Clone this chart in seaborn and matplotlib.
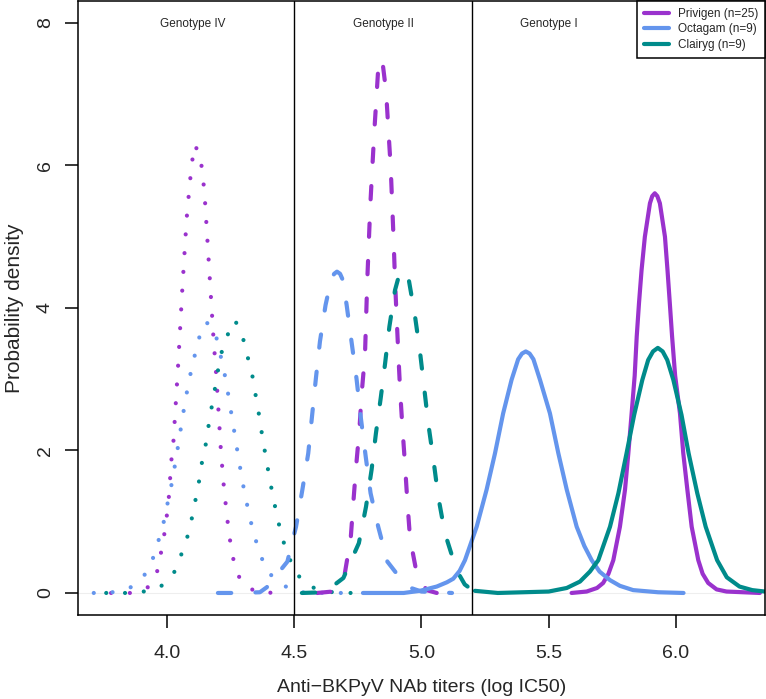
import matplotlib
matplotlib.use("Agg")
import matplotlib.pyplot as plt
from matplotlib.lines import Line2D
import pandas as pd
import seaborn as sns

products = ["Privigen (n=25)", "Octagam (n=9)", "Clairyg (n=9)"]
colors = ["#9A32CD", "#6495ED", "#008B8B"]
genotypes = ["Genotype IV", "Genotype II", "Genotype I"]
genotype_label_x = [4.1, 4.85, 5.5]
genotype_bounds = [4.5, 5.2]

# density curves (x = log IC50, y = density)
# Genotype IV
priv_iv_x = [3.78, 3.86, 3.924, 3.961, 3.976, 3.989, 3.999, 4.007, 4.017, 4.025,
             4.034, 4.043, 4.051, 4.059, 4.068, 4.077, 4.090, 4.098, 4.107, 4.130,
             4.139, 4.147, 4.156, 4.165, 4.174, 4.183, 4.194, 4.203, 4.212, 4.224,
             4.240, 4.250, 4.263, 4.288, 4.345, 4.42]
priv_iv_y = [0.0, 0.0, 0.08, 0.30, 0.56, 0.82, 1.08, 1.34, 1.86, 2.12,
             2.64, 3.16, 3.68, 4.20, 4.73, 5.25, 5.77, 6.03, 6.29, 6.16,
             5.89, 5.63, 5.11, 4.59, 4.07, 3.55, 3.03, 2.51, 1.98, 1.46,
             0.94, 0.68, 0.43, 0.18, 0.02, 0.0]
octa_iv_x = [3.712, 3.785, 3.857, 3.911, 3.944, 3.966, 3.986, 4.001, 4.016, 4.029,
             4.041, 4.052, 4.064, 4.076, 4.090, 4.106, 4.123, 4.149, 4.170, 4.191,
             4.208, 4.224, 4.237, 4.249, 4.261, 4.272, 4.284, 4.296, 4.310, 4.325,
             4.343, 4.364, 4.393, 4.440, 4.510, 4.65, 4.73]
octa_iv_y = [0.0, 0.01, 0.08, 0.25, 0.48, 0.73, 0.98, 1.24, 1.49, 1.75,
             2.01, 2.26, 2.53, 2.78, 3.04, 3.29, 3.55, 3.80, 3.77, 3.63,
             3.37, 3.12, 2.86, 2.60, 2.34, 2.09, 1.83, 1.57, 1.32, 1.06,
             0.81, 0.56, 0.31, 0.14, 0.01, 0.0, 0.0]
clai_iv_x = [3.761, 3.835, 3.908, 3.978, 4.028, 4.056, 4.080, 4.097, 4.111, 4.125,
             4.136, 4.151, 4.162, 4.174, 4.187, 4.199, 4.212, 4.235, 4.267, 4.297,
             4.314, 4.333, 4.345, 4.358, 4.369, 4.381, 4.393, 4.406, 4.420, 4.435,
             4.451, 4.475, 4.504, 4.554, 4.622, 4.69, 4.77]
clai_iv_y = [0.0, 0.0, 0.02, 0.10, 0.29, 0.54, 0.79, 1.04, 1.29, 1.55,
             1.81, 2.06, 2.32, 2.58, 2.84, 3.10, 3.35, 3.60, 3.83, 3.60,
             3.35, 3.10, 2.84, 2.58, 2.32, 2.06, 1.81, 1.55, 1.29, 1.04,
             0.79, 0.54, 0.29, 0.10, 0.02, 0.0, 0.0]

# Genotype II
priv_ii_x = [4.59, 4.65, 4.699, 4.722, 4.732, 4.743, 4.756, 4.765, 4.778, 4.787,
             4.799, 4.807, 4.815, 4.824, 4.830, 4.837, 4.848, 4.861, 4.870, 4.879,
             4.885, 4.891, 4.896, 4.902, 4.909, 4.916, 4.925, 4.935, 4.944, 4.955,
             4.981, 5.02, 5.06]
priv_ii_y = [0.0, 0.02, 0.28, 0.77, 1.26, 1.77, 2.29, 2.80, 3.34, 4.39,
             5.45, 5.98, 6.50, 7.01, 7.36, 7.50, 7.42, 7.04, 6.50, 5.98,
             5.45, 4.91, 4.39, 3.90, 3.36, 2.85, 2.33, 1.82, 1.31, 0.77,
             0.28, 0.04, 0.0]
octa_ii_x = [4.20, 4.28, 4.365, 4.392, 4.473, 4.507, 4.532, 4.555, 4.571, 4.585,
             4.601, 4.623, 4.645, 4.657, 4.668, 4.680, 4.690, 4.706, 4.725, 4.745,
             4.762, 4.781, 4.800, 4.830, 4.866, 4.942, 5.00, 5.12]
octa_ii_y = [0.0, 0.0, 0.01, 0.08, 0.44, 0.93, 1.45, 1.96, 2.52, 3.01,
             3.53, 4.04, 4.40, 4.48, 4.51, 4.48, 4.40, 4.04, 3.53, 3.00,
             2.45, 1.91, 1.40, 0.93, 0.44, 0.09, 0.02, 0.0]
clai_ii_x = [4.53, 4.62, 4.693, 4.754, 4.782, 4.804, 4.821, 4.840, 4.857, 4.874,
             4.896, 4.912, 4.925, 4.937, 4.949, 4.974, 4.994, 5.010, 5.027, 5.047,
             5.066, 5.092, 5.138, 5.17, 5.20]
clai_ii_y = [0.0, 0.01, 0.21, 0.70, 1.21, 1.73, 2.24, 2.74, 3.22, 3.74,
             4.25, 4.46, 4.53, 4.50, 4.42, 3.90, 3.39, 2.90, 2.37, 1.87,
             1.35, 0.84, 0.32, 0.12, 0.04]

# Genotype I
priv_i_x = [5.59, 5.649, 5.690, 5.714, 5.735, 5.754, 5.780, 5.800, 5.813, 5.826,
            5.838, 5.846, 5.855, 5.865, 5.878, 5.898, 5.907, 5.917, 5.927, 5.937,
            5.957, 5.967, 5.976, 5.985, 5.997, 6.016, 6.029, 6.045, 6.062, 6.088,
            6.105, 6.127, 6.160, 6.199, 6.33]
priv_i_y = [0.0, 0.02, 0.07, 0.14, 0.27, 0.46, 0.93, 1.45, 1.96, 2.52,
            3.05, 3.60, 4.07, 4.53, 5.00, 5.47, 5.57, 5.61, 5.57, 5.47,
            5.00, 4.53, 4.07, 3.60, 3.05, 2.52, 1.96, 1.45, 0.93, 0.46,
            0.27, 0.14, 0.05, 0.02, 0.0]
octa_i_x = [4.77, 4.93, 4.994, 5.06, 5.10, 5.125, 5.150, 5.171, 5.217, 5.256,
            5.289, 5.321, 5.354, 5.38, 5.395, 5.41, 5.425, 5.44, 5.466, 5.505,
            5.538, 5.571, 5.610, 5.640, 5.669, 5.700, 5.741, 5.780, 5.832, 5.93,
            6.03]
octa_i_y = [0.0, 0.0, 0.03, 0.09, 0.15, 0.20, 0.31, 0.46, 0.93, 1.45,
            1.96, 2.52, 2.99, 3.28, 3.36, 3.39, 3.36, 3.28, 2.99, 2.52,
            1.96, 1.45, 0.93, 0.66, 0.46, 0.30, 0.18, 0.10, 0.04, 0.01,
            0.0]
clai_i_x = [5.21, 5.30, 5.40, 5.50, 5.571, 5.623, 5.662, 5.695, 5.741, 5.774,
            5.806, 5.836, 5.868, 5.891, 5.910, 5.929, 5.948, 5.966, 5.99, 6.022,
            6.05, 6.084, 6.117, 6.162, 6.20, 6.25, 6.30, 6.35]
clai_i_y = [0.03, 0.0, 0.01, 0.02, 0.07, 0.16, 0.30, 0.46, 0.93, 1.40,
            1.96, 2.50, 2.99, 3.27, 3.39, 3.44, 3.39, 3.27, 2.99, 2.50,
            1.96, 1.40, 0.93, 0.46, 0.22, 0.09, 0.04, 0.02]

curves = [
    ("Genotype IV", 0, priv_iv_x, priv_iv_y),
    ("Genotype IV", 1, octa_iv_x, octa_iv_y),
    ("Genotype IV", 2, clai_iv_x, clai_iv_y),
    ("Genotype II", 0, priv_ii_x, priv_ii_y),
    ("Genotype II", 1, octa_ii_x, octa_ii_y),
    ("Genotype II", 2, clai_ii_x, clai_ii_y),
    ("Genotype I", 0, priv_i_x, priv_i_y),
    ("Genotype I", 1, octa_i_x, octa_i_y),
    ("Genotype I", 2, clai_i_x, clai_i_y),
]

line_styles = {
    "Genotype IV": (0, (0.01, 4.5)),
    "Genotype II": (0, (3.2, 5.8)),
    "Genotype I": "-",
}

sns.set_style("ticks")
plt.rcParams["font.family"] = ["Liberation Sans", "DejaVu Sans"]

fig = plt.figure(figsize=(7.66, 6.99), dpi=100)
ax = fig.add_axes([0.1018, 0.1202, 0.8975, 0.8784])

ax.axhline(0, color="#eeeeee", lw=0.8, zorder=0)

for geno, p, xs, ys in curves:
    df = pd.DataFrame({"x": xs, "y": ys})
    sns.lineplot(data=df, x="x", y="y", ax=ax, color=colors[p], lw=3,
                 linestyle=line_styles[geno], estimator=None, sort=False)
    ln = ax.lines[-1]
    ln.set_dash_capstyle("round")
    ln.set_solid_capstyle("round")
    ln.set_dash_joinstyle("round")
    ln.set_solid_joinstyle("round")

for b in genotype_bounds:
    ax.axvline(b, color="black", lw=1.0)

for g, gx in zip(genotypes, genotype_label_x):
    ax.text(gx, 7.98, g, ha="center", va="center", fontsize=8.5)

ax.set_xlim(3.650, 6.352)
ax.set_ylim(-0.309, 8.309)
ax.set_xticks([4.0, 4.5, 5.0, 5.5, 6.0])
ax.set_xticklabels(["4.0", "4.5", "5.0", "5.5", "6.0"])
ax.set_yticks([0, 2, 4, 6, 8])
ax.set_yticklabels(["0", "2", "4", "6", "8"], rotation=90, va="center")
ax.tick_params(axis="both", direction="out", length=9.4, width=1.1,
               labelsize=14, color="black")
ax.tick_params(axis="x", pad=12)
ax.tick_params(axis="y", pad=8)
for s in ax.spines.values():
    s.set_visible(True)
    s.set_linewidth(1.1)
    s.set_color("black")

ax.set_xlabel("Anti\u2212BKPyV NAb titers (log IC50)", fontsize=14)
ax.set_ylabel("Probability density", fontsize=15)
ax.xaxis.set_label_coords(0.5, -0.104)
ax.yaxis.set_label_coords(-0.0785, 0.5)

handles = [Line2D([0], [0], color=c, lw=3) for c in colors]
leg = ax.legend(handles, products, loc="upper right", borderaxespad=0,
                fancybox=False, edgecolor="black", framealpha=1, fontsize=8.5,
                handlelength=2.1, handletextpad=0.75, labelspacing=0.28,
                borderpad=0.6)
leg.get_frame().set_linewidth(1.1)

fig.savefig("out.png", dpi=100)
